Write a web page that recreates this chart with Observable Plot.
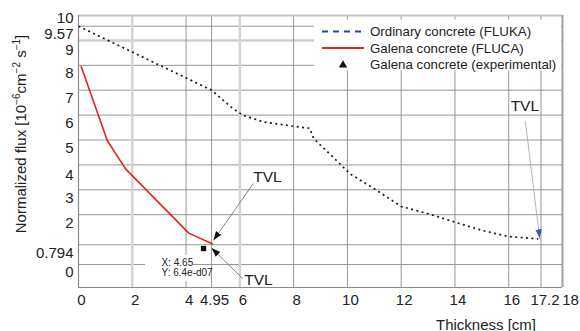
<!DOCTYPE html>
<html><head><meta charset="utf-8">
<script src="https://cdn.jsdelivr.net/npm/d3@7"></script>
<script src="https://cdn.jsdelivr.net/npm/@observablehq/plot@0.6"></script>
<style>body{margin:0;background:#fff}</style>
</head><body><div id="chart"></div>
<script>
// ---- data ----
const ordinaryThickness = [0, 4.95, 5.7, 6.1, 6.9, 8.0, 8.6, 8.75, 9.4, 10.1, 11.0, 12.0, 13.0, 14.0, 15.0, 16.0, 17.1];
const ordinaryFlux      = [9.57, 7.0, 6.3, 6.0, 5.72, 5.55, 5.47, 5.05, 4.38, 3.64, 3.04, 2.33, 2.04, 1.70, 1.37, 1.12, 1.03];
const galenaThickness = [0.1, 1.07, 1.75, 4.1, 4.97];
const galenaFlux      = [7.95, 4.98, 3.84, 1.26, 0.83];
const experimentalThickness = [4.65];
const experimentalFlux      = [0.64];
const datatipLines = ["X: 4.65", "Y: 6.4e-d07"];
const seriesNames = ["Ordinary concrete (FLUKA)", "Galena concrete (FLUCA)", "Galena concrete (experimental)"];
const xTicks = [0, 2, 4, 4.95, 6, 8, 10, 12, 14, 16];
const xTickNear = [17.2];
const xTickEnd = [18];
const yTicks = [9.57, 8, 7, 6, 5, 3, 2, 0.794, 0];
const yTicksLow = [9, 4];
const yTopTick = [10];
const yGridThin = [0, 0.794, 2, 3, 4, 5, 6, 7, 8, 9.57];
const yGridLight = [9];
const xGridThin = [4, 4.95, 8, 10, 12, 14, 16, 17.2];
const xGridLight = [2, 6];
const tvlLabels = ["TVL", "TVL", "TVL"];
const tvlTextX = [7.03, 6.69, 16.6];
const tvlTextY = [3.53, -0.62, 6.35];
const tvlFromX = [6.5, 6.12, 16.62];
const tvlFromY = [3.25, -0.58, 5.75];
const tvlToX = [5.02, 4.95, 17.15];
const tvlToY = [0.97, 0.66, 1.05];
const tvlColor = ["#111", "#111", "#3a55a8"];
const tvlLine = ["#777", "#777", "#aab"];

const yMin = -0.924;
const ordinary = ordinaryThickness.map((x, i) => ({x, y: ordinaryFlux[i]}));
const galena = galenaThickness.map((x, i) => ({x, y: galenaFlux[i]}));
const experimental = experimentalThickness.map((x, i) => ({x, y: experimentalFlux[i]}));
const tvl = tvlLabels.map((t, i) => ({t, tx: tvlTextX[i], ty: tvlTextY[i], x1: tvlFromX[i], y1: tvlFromY[i], x2: tvlToX[i], y2: tvlToY[i], c: tvlColor[i], lc: tvlLine[i]}));

const font = "'Liberation Sans', Arial, Helvetica, sans-serif";
const axisText = {tickSize: 0, tickFormat: d => String(d), fontSize: 15, fill: "#222"};

const chart = Plot.plot({
  width: 580, height: 331,
  marginLeft: 78, marginRight: 18, marginTop: 15, marginBottom: 44,
  style: {fontFamily: font, fontSize: "15px", color: "#222", background: "#fff"},
  x: {domain: [0, 18]},
  y: {domain: [yMin, 10]},
  marks: [
    Plot.ruleY(yGridThin, {stroke: "#8a8a8a", strokeWidth: 0.9}),
    Plot.ruleY(yGridLight, {stroke: "#cfcfcf", strokeWidth: 2.5}),
    Plot.ruleX(xGridThin, {stroke: "#8a8a8a", strokeWidth: 0.9}),
    Plot.ruleX(xGridLight, {stroke: "#d3d3d3", strokeWidth: 2.5}),
    Plot.ruleY([10], {stroke: "#c4c4c4", strokeWidth: 2}),
    Plot.ruleX([18], {stroke: "#a0a0a0", strokeWidth: 2}),
    Plot.ruleX([0], {stroke: "#8a8a8a", strokeWidth: 1.2}),
    Plot.ruleY([yMin], {stroke: "#8a8a8a", strokeWidth: 1.2}),
    Plot.axisY(yTicks, {...axisText, tickPadding: 5, dy: 8}),
    Plot.axisY(yTicksLow, {...axisText, tickPadding: 5, dy: 10}),
    Plot.axisY(yTopTick, {...axisText, tickPadding: 5, dy: 3}),
    Plot.axisX(xTicks, {...axisText, tickPadding: 7, dx: 3}),
    Plot.axisX(xTickNear, {...axisText, tickPadding: 7, dx: 4}),
    Plot.axisX(xTickEnd, {...axisText, tickPadding: 7, dx: 8}),
    Plot.line(ordinary, {x: "x", y: "y", stroke: "#1a1a1a", strokeWidth: 1.7, strokeDasharray: "2 3.4", strokeLinecap: "butt"}),
    Plot.line(galena, {x: "x", y: "y", stroke: "#e3231c", strokeWidth: 1.6}),
    Plot.text(experimental, {x: "x", y: "y", text: () => datatipLines.join("\n"), textAnchor: "start", lineAnchor: "top", dx: -42, dy: 11, fontSize: 10, lineHeight: 0.95, fill: "#222"}),
    Plot.dot(experimental, {x: "x", y: "y", symbol: "square", r: 3, fill: "#111", stroke: "none"}),
    Plot.link(tvl, {x1: "x1", y1: "y1", x2: "x2", y2: "y2", stroke: "lc", strokeWidth: 0.9}),
    Plot.text(tvl, {x: "tx", y: "ty", text: "t", fontSize: 15.5, fill: "#222"})
  ]
});

document.getElementById("chart").appendChild(chart);

const svg = d3.select(chart);
const sx = chart.scale("x"), sy = chart.scale("y");

// datatip white box behind its text
const px = sx.apply(experimentalThickness[0]), py = sy.apply(experimentalFlux[0]);
const textG = svg.selectAll("g[aria-label=text]").nodes()[0];
svg.insert("rect", () => textG)
  .attr("x", px - 58).attr("y", py + 7).attr("width", 48).attr("height", 26)
  .attr("fill", "#fff");

// arrowheads
const defs = svg.insert("defs", ":first-child");
tvl.forEach((d, i) => {
  defs.append("marker").attr("id", "tvlhead" + i)
    .attr("viewBox", "0 -5 10 10").attr("refX", 10).attr("refY", 0)
    .attr("markerUnits", "userSpaceOnUse").attr("markerWidth", 9).attr("markerHeight", 9)
    .attr("orient", "auto")
    .append("path").attr("d", "M0,-3.6L10,0L0,3.6Z").attr("fill", d.c);
});
svg.selectAll("g[aria-label=link] path").each(function(d, i) {
  d3.select(this).attr("marker-end", `url(#tvlhead${i})`);
});

// legend box
const lg = svg.append("g").attr("font-family", font).attr("font-size", 13.3).attr("fill", "#222").attr("text-anchor", "start");
lg.append("rect").attr("x", 314).attr("y", 19.5).attr("width", 247).attr("height", 51).attr("fill", "#fff");
const rows = [31.5, 48, 64.5];
lg.append("line").attr("x1", 322).attr("x2", 364).attr("y1", rows[0]).attr("y2", rows[0])
  .attr("stroke", "#2b46a0").attr("stroke-width", 2).attr("stroke-dasharray", "6 5");
lg.append("line").attr("x1", 322).attr("x2", 364).attr("y1", rows[1]).attr("y2", rows[1])
  .attr("stroke", "#e3231c").attr("stroke-width", 2);
lg.append("path").attr("transform", `translate(343,${rows[2] + 0.5})`)
  .attr("d", d3.symbol(d3.symbolTriangle, 30)()).attr("fill", "#111");
seriesNames.forEach((s, i) => {
  lg.append("text").attr("x", 370).attr("y", rows[i]).attr("dy", "0.35em").text(s);
});

// axis titles
const yt = svg.append("text").attr("font-family", font).attr("font-size", 15).attr("fill", "#222")
  .attr("text-anchor", "middle").attr("transform", "translate(26,134) rotate(-90)");
const parts = [["Normalized flux [10", 0], ["\u22126", 1], ["cm", 0], ["\u22122", 1], [" s", 0], ["\u22121", 1], ["]", 0]];
let raised = false;
parts.forEach(([t, sup]) => {
  const ts = yt.append("tspan").text(t);
  if (sup && !raised) { ts.attr("dy", -6).attr("font-size", 10); raised = true; }
  else if (sup) { ts.attr("font-size", 10); }
  else if (raised) { ts.attr("dy", 6); raised = false; }
});
svg.append("text").attr("font-family", font).attr("font-size", 15).attr("fill", "#222")
  .attr("text-anchor", "middle").attr("x", 486).attr("y", 325).attr("dy", "0.35em").text("Thickness [cm]");
</script>
</body></html>
